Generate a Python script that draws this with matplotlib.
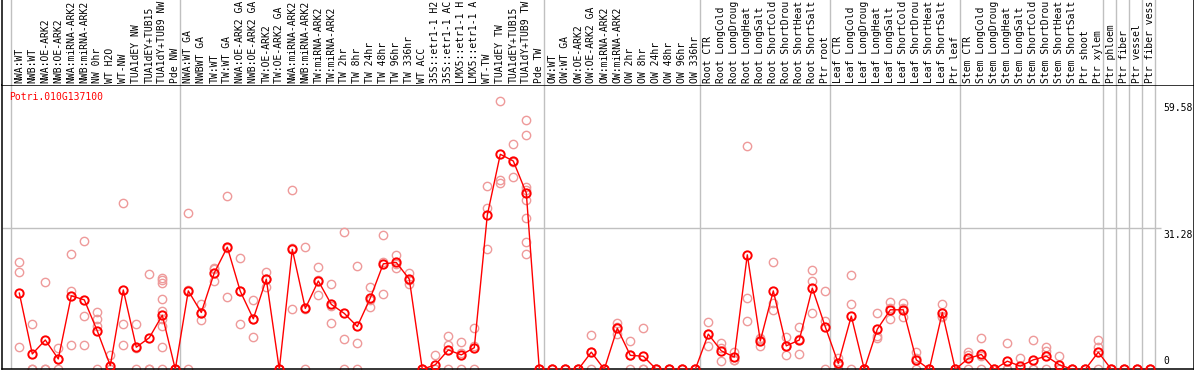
import matplotlib
matplotlib.use("Agg")
import matplotlib.pyplot as plt
import numpy as np

gene = "Potri.010G137100"

# sample names as shown (the chart cuts them at 14 characters)
labels = [
    "NWA:WT", "NWB:WT", "NWA:OE-ARK2", "NWB:OE-ARK2", "NWA:miRNA-ARK2", "NWB:miRNA-ARK2",
    "NW 0hr", "WT H2O", "WT-NW", "TUA1dEY NW", "TUA1dEY+TUB15", "TUA1dY+TUB9 NW", "Pde NW",
    "NWA:WT GA", "NWBWT GA", "TW:WT", "TW:WT GA", "NWA:OE-ARK2 GA", "NWB:OE-ARK2 GA",
    "TW:OE-ARK2", "TW:OE-ARK2 GA", "NWA:miRNA-ARK2", "NWB:miRNA-ARK2", "TW:miRNA-ARK2",
    "TW:miRNA-ARK2", "TW 2hr", "TW 8hr", "TW 24hr", "TW 48hr", "TW 96hr", "TW 336hr",
    "WT ACC", "35S::etr1-1 H2", "35S::etr1-1 AC", "LMX5::etr1-1 H", "LMX5::etr1-1 A",
    "WT-TW", "TUA1dEY TW", "TUA1dEY+TUB15", "TUA1dY+TUB9 TW", "Pde TW",
    "OW:WT", "OW:WT GA", "OW:OE-ARK2", "OW:OE-ARK2 GA", "OW:miRNA-ARK2", "OW:miRNA-ARK2",
    "OW 2hr", "OW 8hr", "OW 24hr", "OW 48hr", "OW 96hr", "OW 336hr",
    "Root CTR", "Root LongCold", "Root LongDroug", "Root LongHeat", "Root LongSalt",
    "Root ShortCold", "Root ShortDrou", "Root ShortHeat", "Root ShortSalt", "Ptr root",
    "Leaf CTR", "Leaf LongCold", "Leaf LongDroug", "Leaf LongHeat", "Leaf LongSalt",
    "Leaf ShortCold", "Leaf ShortDrou", "Leaf ShortHeat", "Leaf ShortSalt", "Ptr leaf",
    "Stem CTR", "Stem LongCold", "Stem LongDroug", "Stem LongHeat", "Stem LongSalt",
    "Stem ShortCold", "Stem ShortDrou", "Stem ShortHeat", "Stem ShortSalt", "Ptr shoot",
    "Ptr xylem", "Ptr phloem", "Ptr fiber", "Ptr vessel", "Ptr fiber vess",
]

# first column index of each sample group (last value = end)
group_starts = [0, 13, 41, 53, 63, 73, 84, 85, 86, 87, 88]

means = [
    16.9, 3.4, 6.5, 2.3, 16.3, 15.4, 8.5, 0.8, 17.6, 4.9, 7.0, 12.0, 0,
    17.4, 12.6, 21.4, 27.1, 17.3, 11.2, 20.0, 0, 26.6, 13.5, 19.6, 14.4, 12.4, 9.5,
    15.8, 23.4, 23.7, 20.0, 0, 1.0, 4.3, 3.2, 4.8, 34.2, 47.7, 46.2, 39.1, 0,
    0, 0, 0, 3.8, 0, 9.1, 3.1, 2.9, 0, 0, 0, 0,
    7.8, 4.1, 2.7, 25.4, 6.3, 17.4, 5.2, 6.5, 18.0, 9.4,
    1.3, 11.8, 0, 8.9, 13.2, 13.2, 2.1, 0, 12.6, 0,
    2.4, 3.3, 0, 1.8, 0.7, 2.1, 2.9, 1.0, 0, 0, 3.8,
    0, 0, 0, 0,
]

reps = [
    [23.9, 21.5, 4.9], [10.0, 0, 0], [19.3, 0, 0], [4.7, 2.2, 0], [25.6, 17.4, 5.5],
    [28.4, 11.8, 5.5], [12.7, 11.1, 9.6, 0], [3.2, 0, 0], [36.8, 10.0, 5.5], [10.0, 4.7, 0],
    [21.1, 0, 0], [20.3, 19.7, 19.1, 15.5, 13.0, 11.1, 9.6, 4.9, 0], [0, 0, 0],
    [34.6, 17.6, 0], [14.5, 12.6, 10.9], [22.4, 22.3, 19.5], [38.4, 26.9, 16.0],
    [24.6, 17.3, 10.0], [15.3, 11.1, 7.2], [21.6, 20.1, 18.3], [0, 0, 0],
    [39.7, 26.8, 13.3], [27.1, 13.4, 0], [22.6, 19.7, 16.5], [18.9, 14.1, 10.2],
    [30.4, 6.7, 0], [22.9, 5.8, 0], [18.2, 15.4, 13.8], [29.8, 23.8, 16.6],
    [25.4, 23.3, 22.4], [21.3, 19.8, 18.9], [0, 0, 0], [3.1, 0, 0], [7.3, 5.5, 0],
    [6.0, 3.6, 0], [9.2, 5.2, 0], [40.6, 35.7, 26.7], [59.58, 41.9, 41.3],
    [50.0, 46.0, 42.6], [55.3, 51.9, 40.5, 39.8, 37.6, 33.5, 28.2, 25.6], [0, 0, 0],
    [0, 0, 0], [0, 0, 0], [0, 0, 0], [7.5, 3.9, 0], [0, 0, 0], [10.2, 9.3, 7.8],
    [6.2, 3.1, 0], [9.1, 0, 0], [0, 0, 0], [0, 0, 0], [0, 0, 0], [0, 0, 0],
    [10.4, 7.8, 5.2], [5.8, 4.7, 1.8], [3.9, 2.1, 2.1], [49.5, 15.8, 10.7],
    [6.9, 6.8, 5.2], [23.9, 14.6, 13.2], [7.2, 5.2, 3.2], [9.4, 6.8, 3.3],
    [22.0, 19.6, 12.5], [17.3, 10.7, 0],
    [2.6, 1.3, 0], [20.9, 14.5, 0], [0, 0, 0], [12.5, 7.4, 6.9], [14.9, 13.6, 11.1],
    [14.6, 13.5, 11.5], [3.8, 2.5, 0], [0, 0, 0], [14.5, 11.8, 11.6], [0, 0, 0],
    [3.9, 3.2, 0], [6.9, 3.0, 0], [0, 0, 0], [5.8, 0, 0], [2.4, 0, 0], [6.5, 0, 0],
    [5.0, 4.1, 0], [3.0, 0, 0], [0, 0, 0], [0, 0, 0], [6.5, 5.0, 0],
    [0, 0, 0], [0, 0, 0], [0, 0, 0], [0, 0, 0],
]

y_labels = [59.58, 31.28, 0]

plt.rcParams["font.family"] = "DejaVu Sans Mono"
plt.rcParams["font.size"] = 7

W, H = 1194, 370
fig = plt.figure(figsize=(W / 100, H / 100), dpi=100)

# plot area: x pixel = 19.3 + 13*i ; zero at row 369.3, 31.28 at row 228.3
xlim = ((1.5 - 19.3) / 13, (1193.5 - 19.3) / 13)
ax = fig.add_axes([1.5 / W, 0.7 / H, 1192 / W, 284 / H])
hdr = fig.add_axes([1.5 / W, 284.7 / H, 1192 / W, 85.3 / H], sharex=ax)

x = np.arange(len(means))
rx = np.concatenate([[i] * len(r) for i, r in enumerate(reps)])
ry = np.concatenate(reps)

ax.set_xlim(*xlim)
ax.set_ylim(0, 63.0)
ax.set_xticks([])
ax.set_yticks([])
for s in ax.spines.values():
    s.set_color("black")
    s.set_linewidth(1.1)

gl = "#c0c0c0"
for b in group_starts:
    ax.axvline(b - 0.615, color=gl, lw=1.0, zorder=0)
    hdr.axvline(b - 0.615, color=gl, lw=1.0, zorder=0)
ax.hlines(31.28, xlim[0], group_starts[-1] - 0.2, color=gl, lw=1.0, zorder=0)

ax.plot(rx, ry, "o", ms=6, mfc="none", mec="#ee9a9a", mew=1.0, zorder=2)
ax.plot(x, means, "-", color="red", lw=1.0, zorder=3)
ax.plot(x, means, "o", ms=6, mfc="none", mec="red", mew=1.4, zorder=4)

ax.annotate(gene, xy=(0, 1), xycoords="axes fraction", xytext=(5.6, -8.2),
            textcoords="offset points", color="red", ha="left", va="center")

lx = group_starts[-1] - 0.615 + 0.6
for v in y_labels:
    if v == 0:
        ax.annotate("0", xy=(lx, 0), xytext=(0, 2.5), textcoords="offset points",
                    ha="left", va="bottom")
    else:
        ax.annotate(f"{v:.2f}", xy=(lx, v), xytext=(0, -1.5), textcoords="offset points",
                    ha="left", va="top")

hdr.set_ylim(0, 85.3)
hdr.set_xticks([])
hdr.set_yticks([])
for k in ("top", "bottom"):
    hdr.spines[k].set_visible(False)
for k in ("left", "right"):
    hdr.spines[k].set_linewidth(1.1)
for i, lab in enumerate(labels):
    hdr.text(i, 2.0, lab, rotation=90, ha="center", va="bottom")

fig.savefig("out.png", dpi=100)
